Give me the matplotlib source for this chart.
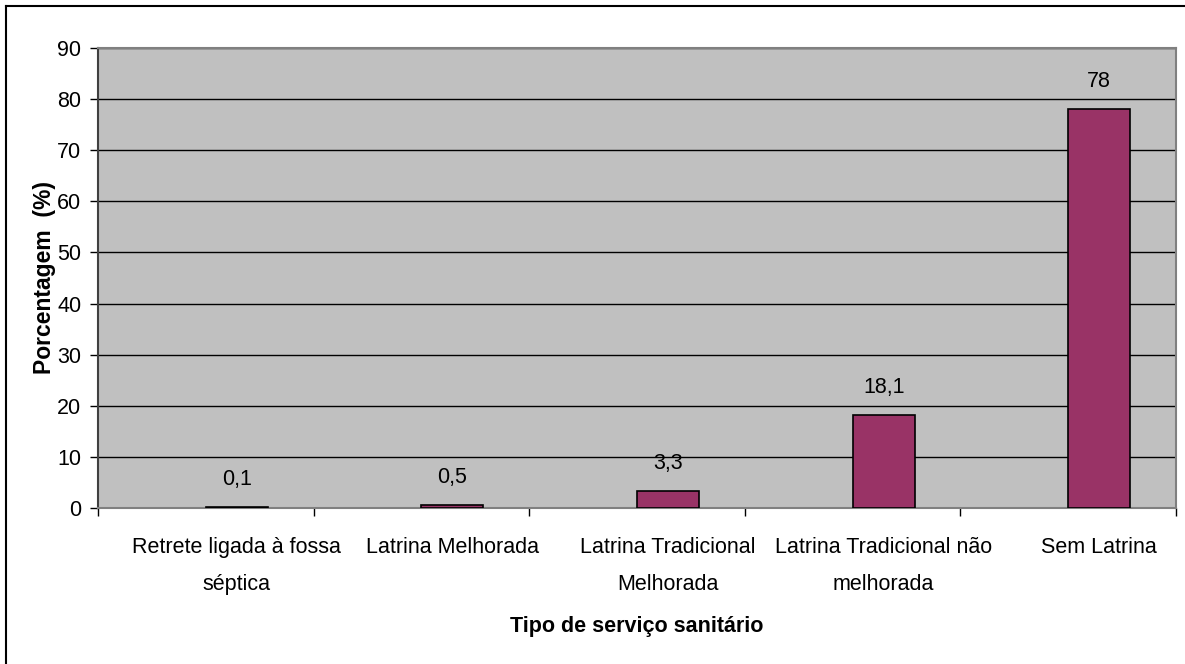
import matplotlib.pyplot as plt
import numpy as np

categorias = ['Retrete ligada à fossa\nséptica', 'Latrina Melhorada',
              'Latrina Tradicional\nMelhorada', 'Latrina Tradicional não\nmelhorada',
              'Sem Latrina']
valores = [0.1, 0.5, 3.3, 18.1, 78]
rotulos = ['0,1', '0,5', '3,3', '18,1', '78']
yticks = list(range(0, 100, 10))

plt.rcParams['font.family'] = ['Liberation Sans', 'DejaVu Sans']

fig = plt.figure(figsize=(11.85, 6.64), dpi=100)
ax = fig.add_axes([98 / 1185, 1 - 508 / 664, (1176 - 98) / 1185, (508 - 48) / 664])

x = np.arange(len(valores))
ax.set_facecolor('#c0c0c0')
ax.bar(x, valores, width=0.288, align='edge', color='#993366',
       edgecolor='black', linewidth=1.2, zorder=3)

for xi, v, r in zip(x, valores, rotulos):
    ax.annotate(r, (xi + 0.144, v), xytext=(0, 20), textcoords='offset points',
                ha='center', va='center', fontsize=15.5)

ax.set_xlim(-0.5, len(valores) - 0.5)
ax.set_ylim(0, 90)
ax.set_yticks(yticks)
ax.tick_params(axis='y', labelsize=15.5, length=6, direction='out', width=1, pad=6)
ax.yaxis.grid(True, color='black', linewidth=1, zorder=0)
ax.set_axisbelow(True)

ax.set_xticks(x + 0.144)
ax.set_xticklabels(categorias, fontsize=15.5, linespacing=2.0)
ax.tick_params(axis='x', length=0, pad=21)
ax.set_xticks(np.arange(-0.5, len(valores)), minor=True)
ax.tick_params(axis='x', which='minor', length=6, width=1, direction='out')

for s in ['top', 'right', 'bottom']:
    ax.spines[s].set_color('#808080')
    ax.spines[s].set_linewidth(1.5)
ax.spines['left'].set_color('#404040')
ax.spines['left'].set_linewidth(1.5)

ax.set_ylabel('Porcentagem  (%)', fontsize=16.5, fontweight='bold', labelpad=1)
ax.set_xlabel('Tipo de serviço sanitário', fontsize=15.5, fontweight='bold', labelpad=15)

# moldura do gráfico (apenas topo e esquerda visíveis)
fig.add_artist(plt.Line2D([6 / 1185, 6 / 1185], [0, 1 - 6 / 664], color='black', linewidth=1.5))
fig.add_artist(plt.Line2D([6 / 1185, 1], [1 - 6 / 664, 1 - 6 / 664], color='black', linewidth=1.5))

fig.savefig('out.png', dpi=100)
